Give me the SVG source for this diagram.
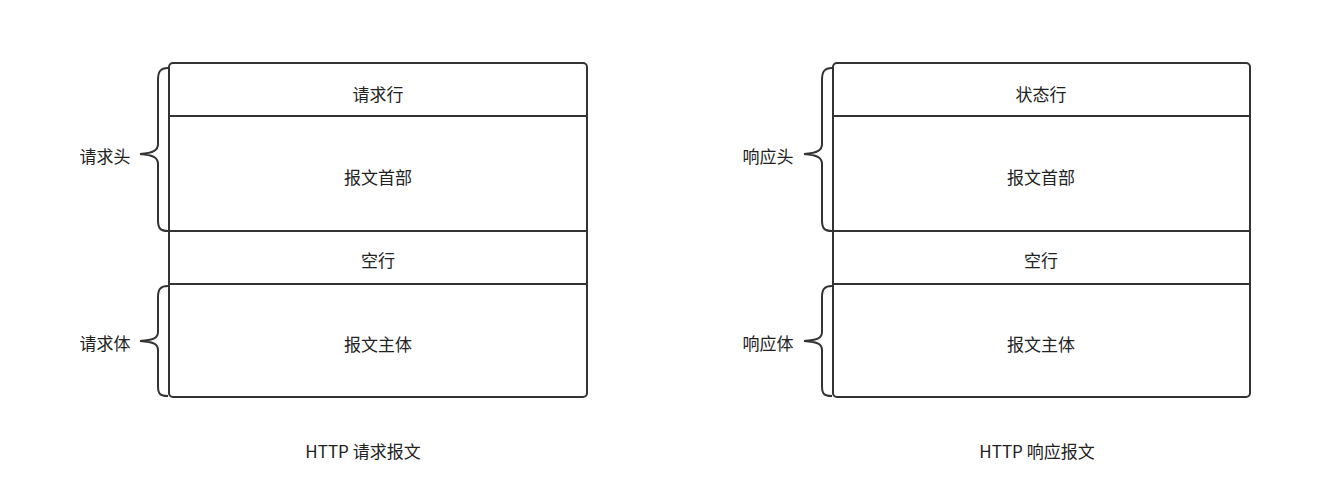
<svg xmlns="http://www.w3.org/2000/svg" width="1333" height="500" viewBox="0 0 1333 500">
<style>
.s{fill:none;stroke:#333;stroke-width:2}
text{font-family:"Noto Sans CJK SC","Noto Sans",sans-serif;font-size:17px;fill:#222;text-anchor:middle;dominant-baseline:central}
</style>
<rect width="1333" height="500" fill="#fff"/>
<g id="req">
<rect class="s" x="169" y="63" width="418" height="334" rx="4"/>
<line class="s" x1="169" y1="116" x2="587" y2="116"/>
<line class="s" x1="169" y1="231" x2="587" y2="231"/>
<line class="s" x1="169" y1="284" x2="587" y2="284"/>
<text x="378" y="93">请求行</text>
<text x="378" y="176">报文首部</text>
<text x="378" y="259">空行</text>
<text x="378" y="343">报文主体</text>
<text x="363" y="450">HTTP 请求报文</text>
</g>
<g id="resp">
<rect class="s" x="833" y="63" width="417" height="334" rx="4"/>
<line class="s" x1="833" y1="116" x2="1250" y2="116"/>
<line class="s" x1="833" y1="231" x2="1250" y2="231"/>
<line class="s" x1="833" y1="284" x2="1250" y2="284"/>
<text x="1041" y="93">状态行</text>
<text x="1041" y="176">报文首部</text>
<text x="1041" y="259">空行</text>
<text x="1041" y="343">报文主体</text>
<text x="1037" y="450">HTTP 响应报文</text>
</g>
<g id="braces">
<path class="s" d="M168,68 C160,68 158,72 158,80 L158,144 C158,150 154,153 140,154 C154,155 158,158 158,164 L158,220 C158,228 160,231 168,231"/>
<path class="s" d="M168,286 C160,286 158,290 158,297 L158,332 C158,338 154,340 140,341 C154,342 158,344 158,350 L158,386 C158,394 160,396 168,396"/>
<path class="s" d="M832,68 C824,68 822,72 822,80 L822,144 C822,150 818,153 804,154 C818,155 822,158 822,164 L822,220 C822,228 824,231 832,231"/>
<path class="s" d="M832,286 C824,286 822,290 822,297 L822,332 C822,338 818,340 804,341 C818,342 822,344 822,350 L822,386 C822,394 824,396 832,396"/>
<text x="105" y="155">请求头</text>
<text x="105" y="342">请求体</text>
<text x="768" y="155">响应头</text>
<text x="768" y="342">响应体</text>
</g>
</svg>
